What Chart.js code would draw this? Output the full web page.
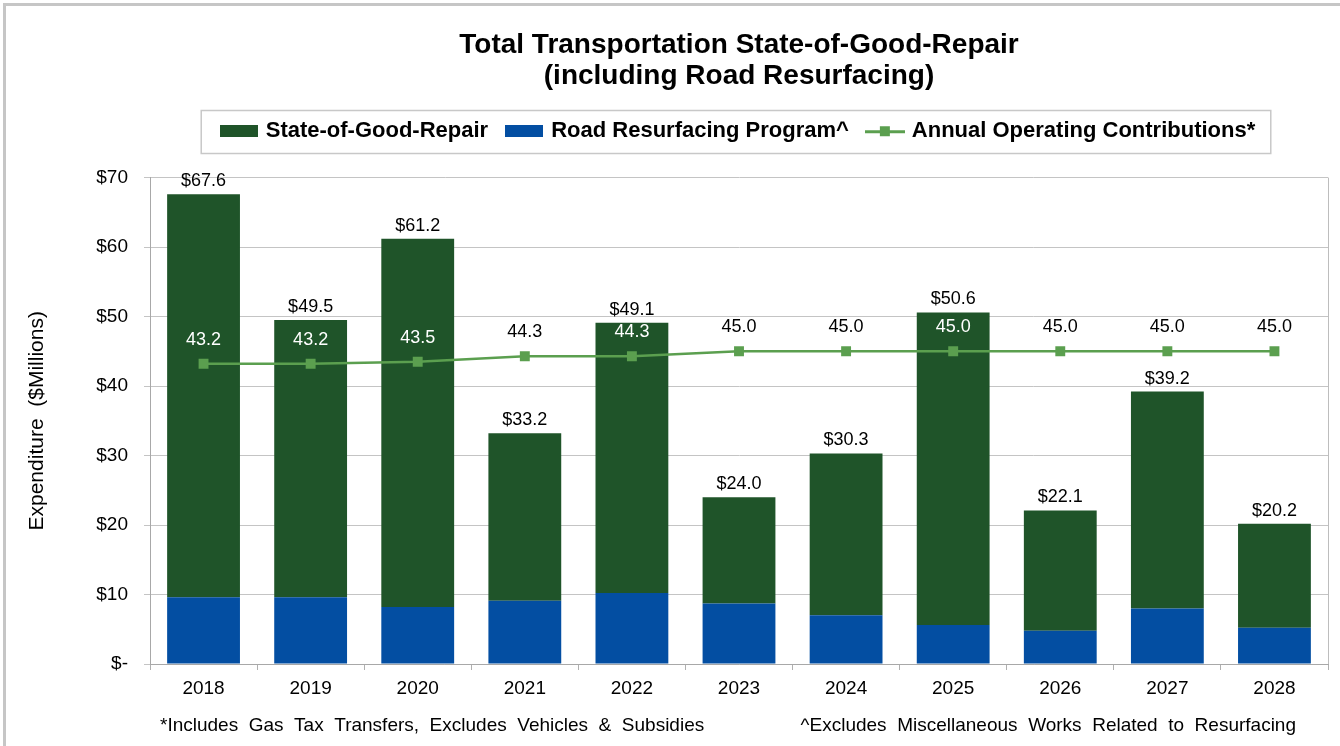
<!DOCTYPE html>
<html>
<head>
<meta charset="utf-8">
<script src="https://cdn.jsdelivr.net/npm/chart.js@4"></script>
<style>
  html, body { margin: 0; padding: 0; background: #fff; }
  #wrap { width: 1340px; height: 746px; }
</style>
</head>
<body>
<div id="wrap"><canvas id="chart" width="1340" height="746"></canvas></div>
<script>
const years = ['2018', '2019', '2020', '2021', '2022', '2023', '2024', '2025', '2026', '2027', '2028'];
const roadResurfacing = [9.6, 9.6, 8.2, 9.1, 10.2, 8.7, 7.0, 5.6, 4.8, 8.0, 5.2];
const stateOfGoodRepair = [58.0, 39.9, 53.0, 24.1, 38.9, 15.3, 23.3, 45.0, 17.3, 31.2, 15.0];
const operatingContributions = [43.2, 43.2, 43.5, 44.3, 44.3, 45.0, 45.0, 45.0, 45.0, 45.0, 45.0];

const sogrColor = '#1f5429';
const roadColor = '#034ea2';
const lineColor = '#5b9f4f';
const font = "'Liberation Sans', Arial, sans-serif";

Chart.defaults.font.family = font;
Chart.defaults.color = '#000';

// legend markers drawn on small canvases
function boxMarker(color) {
  const c = document.createElement('canvas');
  c.width = 38; c.height = 12;
  const g = c.getContext('2d');
  g.fillStyle = color;
  g.fillRect(0, 0, 38, 12);
  return c;
}
function lineMarker(color) {
  const c = document.createElement('canvas');
  c.width = 40; c.height = 12;
  const g = c.getContext('2d');
  g.fillStyle = color;
  g.fillRect(0, 5, 40, 3);
  g.fillRect(15, 1, 10, 10);
  return c;
}

const legendRank = [1, 0, 2];

const framePlugin = {
  id: 'frame',
  beforeLayout(chart) {
    const lg = chart.legend;
    if (lg && !lg._fitPatched) {
      const orig = lg.fit;
      lg.fit = function () { orig.call(this); this.height = 77.4; };
      lg._fitPatched = true;
    }
  },
  beforeDraw(chart) {
    const ctx = chart.ctx;
    ctx.save();
    ctx.fillStyle = '#fff';
    ctx.fillRect(0, 0, chart.width, chart.height);
    ctx.strokeStyle = '#c6c6c6';
    ctx.lineWidth = 3;
    ctx.strokeRect(4.5, 4.5, chart.width + 10, chart.height + 10);
    ctx.restore();
  },
  afterDraw(chart) {
    const ctx = chart.ctx;
    const area = chart.chartArea;
    ctx.save();
    // right border of plot area
    ctx.strokeStyle = '#bdbdbd';
    ctx.lineWidth = 1;
    ctx.beginPath();
    ctx.moveTo(Math.round(area.right) + 0.5, area.top);
    ctx.lineTo(Math.round(area.right) + 0.5, area.bottom);
    ctx.stroke();

    // legend frame
    const boxes = chart.legend.legendHitBoxes;
    if (boxes && boxes.length) {
      const l = Math.min(...boxes.map(b => b.left)) - 22;
      const r = Math.max(...boxes.map(b => b.left + b.width)) + 15;
      ctx.strokeStyle = '#c8c8c8';
      ctx.lineWidth = 1.5;
      ctx.strokeRect(l + 0.5, 110.5, r - l, 43);
    }

    // footnotes
    ctx.fillStyle = '#000';
    ctx.font = '19px ' + font;
    ctx.textBaseline = 'middle';
    ctx.textAlign = 'left';
    ctx.fillText('*Includes  Gas  Tax  Transfers,  Excludes  Vehicles  &  Subsidies', 160, 726);
    ctx.textAlign = 'right';
    ctx.fillText('^Excludes  Miscellaneous  Works  Related  to  Resurfacing', 1296, 726);
    ctx.restore();
  },
  afterDatasetsDraw(chart) {
    const ctx = chart.ctx;
    const barMeta = chart.getDatasetMeta(1);
    const lineMeta = chart.getDatasetMeta(2);
    ctx.save();
    ctx.font = '18px ' + font;
    ctx.textAlign = 'center';
    barMeta.data.forEach((bar, i) => {
      const total = roadResurfacing[i] + stateOfGoodRepair[i];
      ctx.fillStyle = '#000';
      ctx.textBaseline = 'bottom';
      ctx.fillText('$' + total.toFixed(1), bar.x, bar.y - 4);
    });
    lineMeta.data.forEach((pt, i) => {
      const y = pt.y - 24;
      const barTop = barMeta.data[i].y;
      ctx.fillStyle = y > barTop ? '#fff' : '#000';
      ctx.textBaseline = 'middle';
      ctx.fillText(operatingContributions[i].toFixed(1), pt.x, y);
    });
    ctx.restore();
  }
};

new Chart(document.getElementById('chart'), {
  type: 'bar',
  data: {
    labels: years,
    datasets: [
      {
        label: 'Road Resurfacing Program^',
        data: roadResurfacing,
        backgroundColor: roadColor,
        pointStyle: boxMarker(roadColor),
        order: 1,
        stack: 'a'
      },
      {
        label: 'State-of-Good-Repair',
        data: stateOfGoodRepair,
        backgroundColor: sogrColor,
        pointStyle: boxMarker(sogrColor),
        order: 1,
        stack: 'a'
      },
      {
        type: 'line',
        label: 'Annual Operating Contributions*',
        data: operatingContributions,
        borderColor: lineColor,
        backgroundColor: lineColor,
        borderWidth: 2.5,
        pointStyle: 'rect',
        pointRadius: 7,
        pointBorderWidth: 0,
        order: 0,
        tension: 0
      }
    ]
  },
  options: {
    responsive: false,
    animation: false,
    categoryPercentage: 1,
    barPercentage: 0.68,
    layout: { padding: { top: 8, left: 10, right: 12, bottom: 0 } },
    plugins: {
      tooltip: { enabled: false },
      title: {
        display: true,
        fullSize: false,
        text: ['Total Transportation State-of-Good-Repair', '(including Road Resurfacing)'],
        font: { size: 28, weight: 'bold', lineHeight: 1.1 },
        color: '#000',
        padding: { top: 21.6, bottom: 9 }
      },
      legend: {
        fullSize: false,
        labels: {
          usePointStyle: true,
          pointStyleWidth: 32,
          padding: 20,
          font: { size: 22, weight: 'bold' },
          color: '#000',
          sort: (a, b) => legendRank[a.datasetIndex] - legendRank[b.datasetIndex],
          generateLabels(chart) {
            const items = Chart.defaults.plugins.legend.labels.generateLabels(chart);
            items.forEach(it => {
              if (it.datasetIndex === 2) it.pointStyle = lineMarker(lineColor);
            });
            return items;
          }
        }
      }
    },
    scales: {
      x: {
        stacked: true,
        grid: {
          offset: true,
          drawOnChartArea: false,
          drawTicks: true,
          tickLength: 6,
          color: '#b0b0b0'
        },
        border: { color: '#a8a8a8' },
        ticks: { font: { size: 19 }, padding: 7, color: '#000' },
        afterFit(scale) { scale.height = 82; }
      },
      y: {
        stacked: true,
        min: 0,
        max: 70,
        ticks: {
          stepSize: 10,
          font: { size: 19 },
          padding: 16,
          color: '#000',
          callback: v => v === 0 ? '$-' : '$' + v
        },
        grid: { color: '#c4c4c4', tickLength: 6 },
        border: { color: '#a8a8a8' },
        title: {
          display: true,
          text: 'Expenditure  ($Millions)',
          font: { size: 21 },
          color: '#000',
          padding: { top: 15, bottom: 0 }
        },
        afterFit(scale) { scale.width = 140; }
      }
    }
  },
  plugins: [framePlugin]
});
</script>
</body>
</html>
